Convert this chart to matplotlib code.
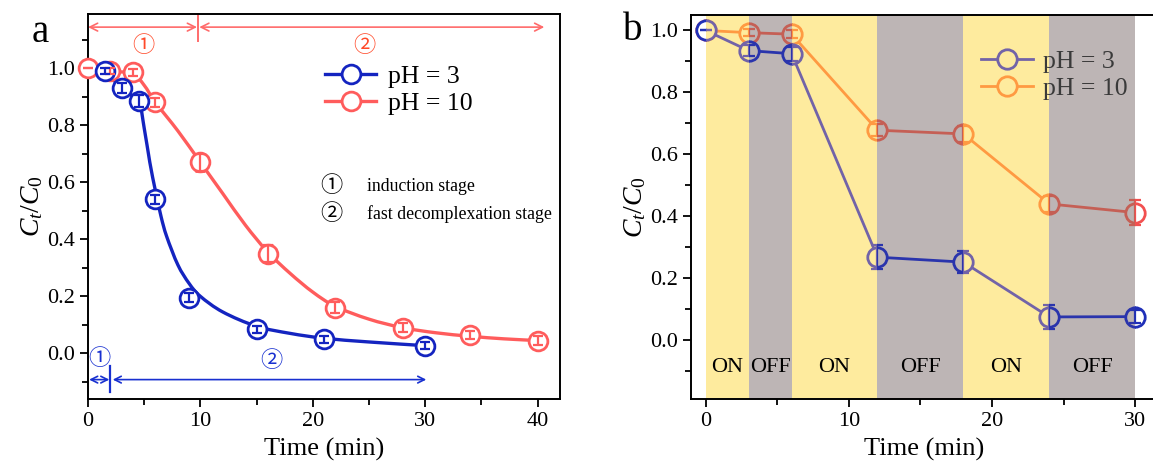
import numpy as np
import matplotlib
matplotlib.use('Agg')
import matplotlib.pyplot as plt
from matplotlib.path import Path
from matplotlib.patches import PathPatch, Rectangle

plt.rcParams['font.family'] = ['Liberation Serif', 'Noto Sans CJK JP']
plt.rcParams['mathtext.fontset'] = 'custom'
plt.rcParams['mathtext.rm'] = 'Liberation Serif'
plt.rcParams['mathtext.it'] = 'Liberation Serif:italic'

# ---------------- data: panel a ----------------
t_a3 = [1.5, 3, 4.5, 6, 9, 15, 21, 30]
c_a3 = [0.99, 0.93, 0.885, 0.54, 0.195, 0.085, 0.05, 0.027]
e_a3 = [0.012, 0.018, 0.02, 0.015, 0.015, 0.012, 0.012, 0.012]
t_a10 = [0, 2, 4, 6, 10, 16, 22, 28, 34, 40]
c_a10 = [1.0, 0.99, 0.985, 0.88, 0.67, 0.35, 0.16, 0.09, 0.065, 0.045]
e_a10 = [0.0, 0.012, 0.012, 0.015, 0.03, 0.03, 0.02, 0.015, 0.015, 0.015]
# fitted curves
fit_t3 = [1.5, 3, 4.5, 5, 5.5, 6, 6.5, 7, 8, 9, 10, 12, 15, 18, 21, 25, 30]
fit_c3 = [0.99, 0.93, 0.88, 0.79, 0.67, 0.57, 0.48, 0.41, 0.31, 0.245, 0.20,
          0.145, 0.095, 0.07, 0.053, 0.04, 0.027]
fit_t10 = [0, 2, 4, 5, 6, 8, 10, 12, 14, 16, 18, 20, 22, 25, 28, 31, 34, 37, 40]
fit_c10 = [1.0, 0.99, 0.98, 0.94, 0.88, 0.78, 0.67, 0.56, 0.45, 0.355, 0.28,
           0.215, 0.165, 0.12, 0.09, 0.072, 0.06, 0.051, 0.045]

# ---------------- data: panel b ----------------
t_b = [0, 3, 6, 12, 18, 24, 30]
c_b3 = [1.0, 0.935, 0.925, 0.268, 0.252, 0.075, 0.076]
e_b3 = [0.0, 0.018, 0.022, 0.038, 0.035, 0.04, 0.02]
c_b10 = [1.0, 0.993, 0.988, 0.678, 0.666, 0.44, 0.412]
e_b10 = [0.0, 0.012, 0.012, 0.02, 0.025, 0.025, 0.04]
band_edges = [0, 3, 6, 12, 18, 24, 30]
band_state = ['ON', 'OFF', 'ON', 'OFF', 'ON', 'OFF']

BLUE = '#1424C0'
RED = '#FF5C5C'
YELLOW = '#FEEB9E'
GREY = '#BDB5B5'

fig = plt.figure(figsize=(11.53, 4.67), dpi=100)


def smooth_path(x, y):
    P = np.column_stack([x, y]).astype(float)
    verts = [P[0]]
    codes = [Path.MOVETO]
    n = len(P)
    for i in range(n - 1):
        p0 = P[i - 1] if i > 0 else P[i]
        p1 = P[i]
        p2 = P[i + 1]
        p3 = P[i + 2] if i + 2 < n else P[i + 1]
        c1 = p1 + (p2 - p0) / 6.0
        c2 = p2 - (p3 - p1) / 6.0
        verts += [c1, c2, p2]
        codes += [Path.CURVE4] * 3
    return Path(verts, codes)


def style_axes(ax):
    for s in ax.spines.values():
        s.set_linewidth(1.4)
    ax.tick_params(which='both', direction='out', labelsize=16, width=1.3,
                   top=False, right=False)
    ax.tick_params(which='major', length=6)
    ax.tick_params(which='minor', length=4)


# ================= panel a =================
axa = fig.add_axes([88/1153, 1-399/467, (560-88)/1153, (399-14)/467])
axa.set_xlim(0, 42)
axa.set_ylim(-0.16, 1.19)
style_axes(axa)
axa.set_xticks([0, 10, 20, 30, 40])
axa.set_xticks([5, 15, 25, 35], minor=True)
axa.set_yticks([0, 0.2, 0.4, 0.6, 0.8, 1.0])
axa.set_yticks([-0.1, 0.1, 0.3, 0.5, 0.7, 0.9, 1.1], minor=True)
axa.set_yticklabels(['0.0', '0.2', '0.4', '0.6', '0.8', '1.0'])
axa.set_xlabel('Time (min)', fontsize=19, labelpad=5)
axa.set_ylabel('$C_t/C_0$', fontsize=20, labelpad=1)

for ft, fc, col in [(fit_t3, fit_c3, BLUE), (fit_t10, fit_c10, RED)]:
    axa.add_patch(PathPatch(smooth_path(ft, fc), fill=False, edgecolor=col,
                            lw=2.4, zorder=2, clip_on=True))

for t, c, e, col in [(t_a10, c_a10, e_a10, RED), (t_a3, c_a3, e_a3, BLUE)]:
    axa.errorbar(t, c, yerr=e, fmt='o', ms=13.5, mfc='white', mec=col, mew=2.0,
                 ecolor=col, elinewidth=1.6, capsize=3.5, capthick=1.6,
                 zorder=3, clip_on=False)
    axa.errorbar(t, c, yerr=e, fmt='none', ecolor=col, elinewidth=1.6,
                 capsize=3.5, capthick=1.6, zorder=4, clip_on=False)

# legend
h3, = axa.plot([], [], '-o', color=BLUE, lw=2.4, ms=13.5, mfc='white', mew=2.0)
h10, = axa.plot([], [], '-o', color=RED, lw=2.4, ms=13.5, mfc='white', mew=2.0)
axa.legend([h3, h10], ['pH = 3', 'pH = 10'], loc='upper left',
           bbox_to_anchor=(0.48, 0.895), frameon=False, fontsize=18.5,
           handlelength=2.0, handletextpad=0.45, labelspacing=0.15,
           borderaxespad=0)
axa.text(0.516, 0.553, '①', transform=axa.transAxes, fontsize=16,
         va='center', ha='center')
axa.text(0.592, 0.553, 'induction stage', transform=axa.transAxes,
         fontsize=12.8, va='center', ha='left')
axa.text(0.516, 0.48, '②', transform=axa.transAxes, fontsize=16,
         va='center', ha='center')
axa.text(0.592, 0.48, 'fast decomplexation stage', transform=axa.transAxes,
         fontsize=12.8, va='center', ha='left')

# stage arrows (top, red)
ARED = '#FF6B6B'
ap = dict(arrowstyle='<->', color=ARED, lw=1.2, shrinkA=0, shrinkB=0,
          mutation_scale=14)
axa.annotate('', xy=(0, 1.144), xytext=(9.7, 1.144), arrowprops=ap,
             annotation_clip=False)
axa.annotate('', xy=(9.9, 1.144), xytext=(40.6, 1.144), arrowprops=ap,
             annotation_clip=False)
axa.plot([9.8, 9.8], [1.095, 1.19], color=ARED, lw=1.4, clip_on=False)
axa.text(4.9, 1.075, '①', color='#FF4A2A', fontsize=16, ha='center',
         va='center')
axa.text(24.6, 1.075, '②', color='#FF4A2A', fontsize=16, ha='center',
         va='center')

# stage arrows (bottom, blue)
ABLUE = '#1830D0'
apb = dict(arrowstyle='<->', color=ABLUE, lw=1.2, shrinkA=0, shrinkB=0,
           mutation_scale=12)
axa.annotate('', xy=(0.1, -0.092), xytext=(1.9, -0.092), arrowprops=apb)
axa.annotate('', xy=(2.2, -0.092), xytext=(30.1, -0.092), arrowprops=apb)
axa.plot([2.0, 2.0], [-0.045, -0.135], color=ABLUE, lw=1.6)
axa.text(1.0, -0.022, '①', color=ABLUE, fontsize=16, ha='center', va='center')
axa.text(16.3, -0.028, '②', color=ABLUE, fontsize=16, ha='center', va='center')

fig.text(40/1153, 1-32/467, 'a', fontsize=28, ha='center', va='center')

# ================= panel b =================
axb = fig.add_axes([691/1153, 1-399/467, 467/1153, (399-15)/467])
axb.set_xlim(-1.03, 31.6)
axb.set_ylim(-0.19, 1.05)
style_axes(axb)
axb.set_xticks([0, 10, 20, 30])
axb.set_xticks([5, 15, 25], minor=True)
axb.set_yticks([0, 0.2, 0.4, 0.6, 0.8, 1.0])
axb.set_yticks([-0.1, 0.1, 0.3, 0.5, 0.7, 0.9], minor=True)
axb.set_yticklabels(['0.0', '0.2', '0.4', '0.6', '0.8', '1.0'])
axb.set_xlabel('Time (min)', fontsize=19, labelpad=5)
axb.set_ylabel('$C_t/C_0$', fontsize=20, labelpad=1)

for i, st in enumerate(band_state):
    axb.axvspan(band_edges[i], band_edges[i+1],
                color=YELLOW if st == 'ON' else GREY, lw=0, zorder=0)
    axb.text((band_edges[i] + band_edges[i+1]) / 2, -0.087, st, fontsize=16,
             ha='center', va='center', zorder=6)

# colours of each series as they appear in each kind of region
region_cols = {
    'pH3': {'white': '#2030B8', 'ON': '#7263A8', 'OFF': '#2A34AC'},
    'pH10': {'white': '#F25050', 'ON': '#FF9A42', 'OFF': '#C55F55'},
}
region_fill = {'white': 'white', 'ON': YELLOW, 'OFF': GREY}
regions = [(-5, 0, 'white')]
for i, st in enumerate(band_state):
    regions.append((band_edges[i], band_edges[i+1], st))
regions.append((band_edges[-1], 40, 'white'))

for key, c, e, z in [('pH10', c_b10, e_b10, 3), ('pH3', c_b3, e_b3, 4)]:
    for x0, x1, kind in regions:
        col = region_cols[key][kind]
        rect = Rectangle((x0, -2), x1 - x0, 5, transform=axb.transData)
        ln, = axb.plot(t_b, c, '-', color=col, lw=2.0, zorder=z)
        ln.set_clip_path(rect)
        mk, = axb.plot(t_b, c, 'o', ms=14, mfc=region_fill[kind], mec=col,
                       mew=2.0, zorder=z + 0.1)
        mk.set_clip_path(rect)
        eb = axb.errorbar(t_b, c, yerr=e, fmt='none', ecolor=col,
                          elinewidth=1.6, capsize=4, capthick=1.6,
                          zorder=z + 0.2)
        for art in list(eb.lines[1]) + list(eb.lines[2]):
            art.set_clip_path(rect)

hb3, = axb.plot([], [], '-o', color=region_cols['pH3']['ON'], lw=2.0, ms=14,
                mfc=YELLOW, mew=2.0)
hb10, = axb.plot([], [], '-o', color=region_cols['pH10']['ON'], lw=2.0, ms=14,
                 mfc=YELLOW, mew=2.0)
legb = axb.legend([hb3, hb10], ['pH = 3', 'pH = 10'], loc='upper left',
                  bbox_to_anchor=(0.6, 0.935), frameon=False, fontsize=18.5,
                  handlelength=2.0, handletextpad=0.4, labelspacing=0.15,
                  borderaxespad=0)
for txt in legb.get_texts():
    txt.set_color('#3A3A3A')

fig.text(633/1153, 1-30/467, 'b', fontsize=28, ha='center', va='center')

fig.savefig('out.png', dpi=100)
